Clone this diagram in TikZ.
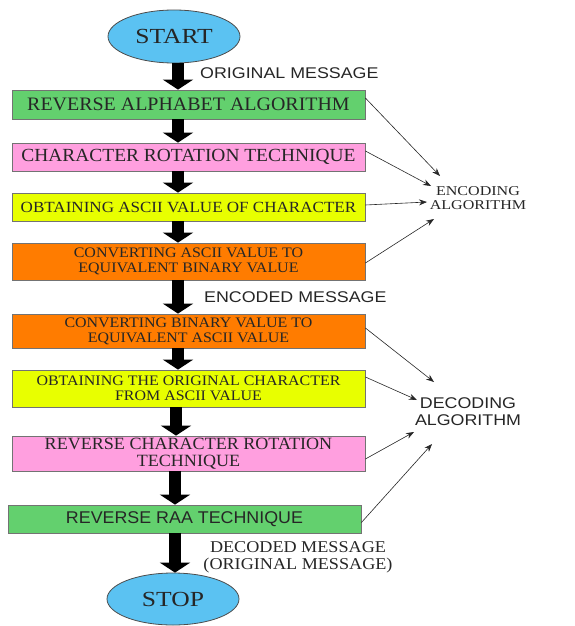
\documentclass[tikz,border=0pt]{standalone}
\usepackage{fontspec}
\setmainfont{Liberation Serif}
\setsansfont{Liberation Sans}
\newfontfamily\serA[FakeStretch=1.05]{Liberation Serif}
\newfontfamily\serB[FakeStretch=1.1]{Liberation Serif}
\newfontfamily\serC[FakeStretch=1.19]{Liberation Serif}
\newfontfamily\sanA[FakeStretch=1.05]{Liberation Sans}
\newfontfamily\sanB[FakeStretch=1.15]{Liberation Sans}
\usetikzlibrary{shapes.geometric,arrows.meta}
\definecolor{cgreen}{HTML}{63D06E}
\definecolor{cpink}{HTML}{FF9FDF}
\definecolor{cyellow}{HTML}{E8FF00}
\definecolor{corange}{HTML}{FF7C00}
\definecolor{cblue}{HTML}{5BC2F2}
\begin{document}
\begin{tikzpicture}[x=1pt,y=-1pt,
 box/.style={draw=black!55, line width=0.8pt, minimum width=353pt, inner sep=0pt, align=center, text=black!85},
 oval/.style={ellipse, draw=black!70, line width=0.8pt, fill=cblue, minimum width=132pt, minimum height=53pt, inner sep=0pt, text=black!85, font=\serC\fontsize{21.5}{24}\selectfont},
 bigarrow/.style={line width=12pt, -{Triangle[length=10pt,width=30pt]}},
 thinarrow/.style={line width=0.6pt, draw=black!85, -{Stealth[length=8pt,width=6pt]}},
 lbl/.style={inner sep=0pt, align=center, text=black!85}
]
\useasboundingbox (0,0) rectangle (575,626);

\node[oval] (start) at (174,36.5) {START};
\node[box, fill=cgreen, minimum height=29pt, font=\serA\fontsize{19}{21}\selectfont] (b1) at (188.5,104.5) {REVERSE ALPHABET ALGORITHM};
\node[box, fill=cpink, minimum height=28pt, font=\serA\fontsize{18.5}{20}\selectfont] (b2) at (188.5,157) {CHARACTER ROTATION TECHNIQUE};
\node[box, fill=cyellow, minimum height=28pt, font=\serB\fontsize{15.5}{17}\selectfont] (b3) at (188.5,207) {OBTAINING ASCII VALUE OF CHARACTER};
\node[box, fill=corange, minimum height=37pt, font=\serB\fontsize{14.5}{14.5}\selectfont] (b4) at (188.5,261.5) {CONVERTING ASCII VALUE TO\\EQUIVALENT BINARY VALUE};
\node[box, fill=corange, minimum height=34pt, font=\serB\fontsize{14.5}{15}\selectfont] (b5) at (188.5,331) {CONVERTING BINARY VALUE TO\\EQUIVALENT ASCII VALUE};
\node[box, fill=cyellow, minimum height=37pt, font=\serB\fontsize{14.5}{15}\selectfont] (b6) at (188.5,388.5) {OBTAINING THE ORIGINAL CHARACTER\\FROM ASCII VALUE};
\node[box, fill=cpink, minimum height=35pt, font=\serA\fontsize{17.2}{17}\selectfont] (b7) at (188.5,453.5) {REVERSE CHARACTER ROTATION\\TECHNIQUE};
\node[box, fill=cgreen, minimum height=28pt, font=\sanA\fontsize{17}{19}\selectfont] (b8) at (184.5,519) {REVERSE RAA TECHNIQUE};
\node[oval, minimum height=52pt] (stop) at (173,599) {STOP};

% thick flow arrows
\coordinate (ax) at (178,0);
\coordinate (bx) at (176,0);
\coordinate (cx) at (175,0);
\draw[bigarrow] (start.south -| ax) -- (b1.north -| ax);
\draw[bigarrow] (b1.south -| ax) -- (b2.north -| ax);
\draw[bigarrow] (b2.south -| ax) -- (b3.north -| ax);
\draw[bigarrow] (b3.south -| ax) -- (b4.north -| ax);
\draw[bigarrow] (b4.south -| ax) -- (b5.north -| ax);
\draw[bigarrow] (b5.south -| ax) -- (b6.north -| ax);
\draw[bigarrow] (b6.south -| bx) -- (b7.north -| bx);
\draw[bigarrow] (b7.south -| cx) -- (b8.north -| cx);
\draw[bigarrow] (b8.south -| cx) -- (stop.north -| cx);

% side labels
\node[lbl, anchor=west, font=\sanB\fontsize{15.5}{17}\selectfont] (om) at (200,73) {ORIGINAL MESSAGE};
\node[lbl, anchor=west, font=\sanB\fontsize{15.5}{17}\selectfont] (em) at (204,297) {ENCODED MESSAGE};
\node[lbl, font=\serB\fontsize{16.5}{17}\selectfont] (dm) at (298,557.5) {DECODED MESSAGE\\(ORIGINAL MESSAGE)};
\node[lbl, font=\serC\fontsize{13.5}{14}\selectfont] (enc) at (478,198) {ENCODING\\ALGORITHM};
\node[lbl, font=\sanB\fontsize{15.5}{17}\selectfont] (dec) at (468,411.5) {DECODING\\ALGORITHM};

% thin arrows to encoding
\coordinate (e1) at (440,176);
\coordinate (e2) at (431,186);
\coordinate (e3) at (427,202);
\coordinate (e4) at (434,219);
\draw[thinarrow] ([yshift=6.5pt]b1.east) -- (e1);
\draw[thinarrow] ([yshift=6pt]b2.east) -- (e2);
\draw[thinarrow] ([yshift=2pt]b3.east) -- (e3);
\draw[thinarrow] ([yshift=-1.5pt]b4.east) -- (e4);
% thin arrows to decoding
\coordinate (d1) at (434,382);
\coordinate (d2) at (417,400);
\coordinate (d3) at (414,432);
\coordinate (d4) at (432,444);
\draw[thinarrow] ([yshift=3pt]b5.east) -- (d1);
\draw[thinarrow] ([yshift=11.5pt]b6.east) -- (d2);
\draw[thinarrow] ([yshift=-5.5pt]b7.east) -- (d3);
\draw[thinarrow] ([yshift=-3.5pt]b8.east) -- (d4);
\end{tikzpicture}
\end{document}
